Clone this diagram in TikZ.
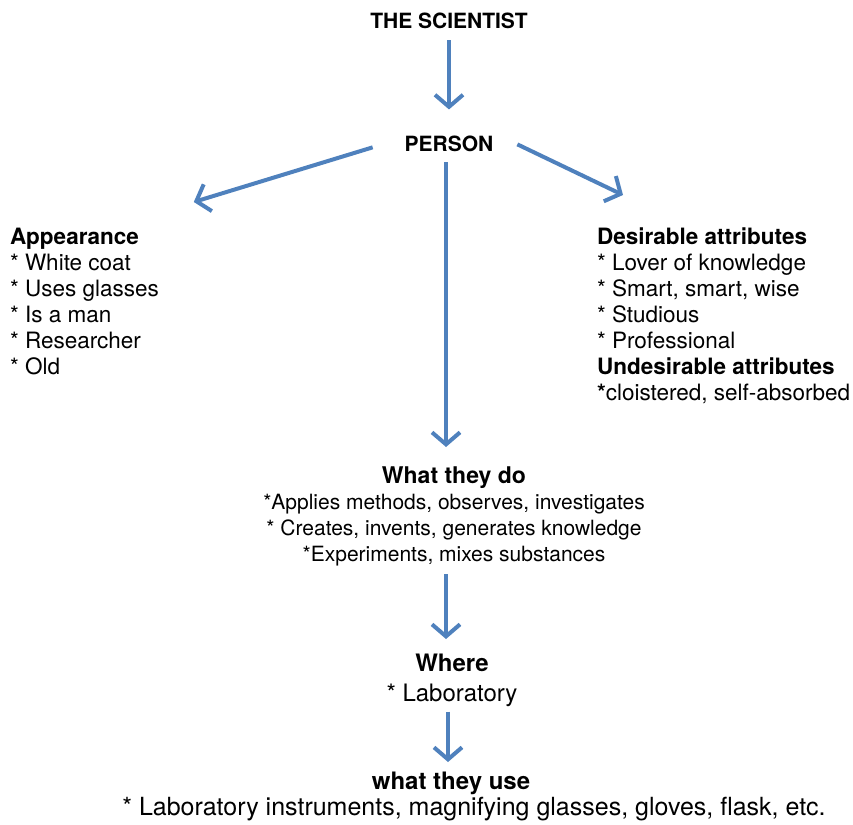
\documentclass[tikz,border=0pt]{standalone}
\usepackage{fontspec}
\setmainfont{TeX Gyre Heros}
\usetikzlibrary{arrows.meta}
\definecolor{arrowblue}{HTML}{4F81BD}
\tikzset{
	flow/.style={draw=arrowblue, line width=4pt, -{Straight Barb[length=12pt,width=28pt]}},
	label/.style={inner sep=0pt, outer sep=0pt},
	list/.style={label, align=left, anchor=north west, font=\fontsize{22.5}{26}\selectfont},
}
\begin{document}
\begin{tikzpicture}[x=1pt,y=-1pt]
				\useasboundingbox (0,0) rectangle (853,824);
				\coordinate (S) at (449,29);
				\coordinate (P) at (449,151);
				\coordinate (L) at (10,228);
				\coordinate (R) at (597,228);
				\coordinate (D) at (454,467);
				\coordinate (W) at (452,654);
				\coordinate (U) at (451,772);
				\coordinate (T) at (474,815);
				\node[label, anchor=base, font=\fontsize{21}{26}\selectfont\bfseries] (scientist) at (S) {THE SCIENTIST};
				\node[label, anchor=base, font=\fontsize{21}{26}\selectfont\bfseries] (person) at (P) {PERSON};
				\node[list] (appearance) at (L) {
					{\bfseries Appearance}\\
					* White coat\\
					* Uses glasses\\
					* Is a man\\
					* Researcher\\
					* Old};
				\node[list] (attributes) at (R) {
					{\bfseries Desirable attributes}\\
					* Lover of knowledge\\
					* Smart, smart, wise\\
					* Studious\\
					* Professional\\
					{\bfseries Undesirable attributes}\\
					{\bfseries *}cloistered, self-absorbed};
				\node[label, align=center, anchor=north, font=\fontsize{21}{26}\selectfont] (whatdo) at (D) {
					{\fontsize{23}{26}\selectfont\bfseries What they do}\\
					*Applies methods, observes, investigates\\
					* Creates, invents, generates knowledge\\
					*Experiments, mixes substances};
				\node[label, align=center, anchor=north, font=\fontsize{24}{30}\selectfont] (where) at (W) {
					{\bfseries Where}\\
					* Laboratory};
				\node[label, anchor=north, font=\fontsize{24}{28}\selectfont\bfseries] (whatuse) at (U) {what they use};
				\node[label, anchor=base, font=\fontsize{25}{28}\selectfont] (tools) at (T) {* Laboratory instruments, magnifying glasses, gloves, flask, etc.};
				% arrows
				\draw[flow, shorten <=11pt, shorten >=26pt] (scientist.south) -- (person.north);
				\draw[flow] ([xshift=-32pt,yshift=-4pt]person.west) -- ([xshift=35pt,yshift=26pt]appearance.north east);
				\draw[flow] ([xshift=24pt,yshift=-1pt]person.east) -- ([xshift=26pt,yshift=33pt]attributes.north west);
				\draw[flow, shorten <=11pt, shorten >=20pt] ([xshift=-3pt]person.south) -- ([xshift=-3pt]person.south |- whatdo.north);
				\draw[flow, shorten <=8pt, shorten >=15pt] ([xshift=-8pt]whatdo.south) -- ([xshift=-8pt]whatdo.south |- where.north);
				\draw[flow, shorten <=5pt, shorten >=10pt] ([xshift=-4pt]where.south) -- ([xshift=-4pt]where.south |- whatuse.north);
			\end{tikzpicture}
\end{document}
